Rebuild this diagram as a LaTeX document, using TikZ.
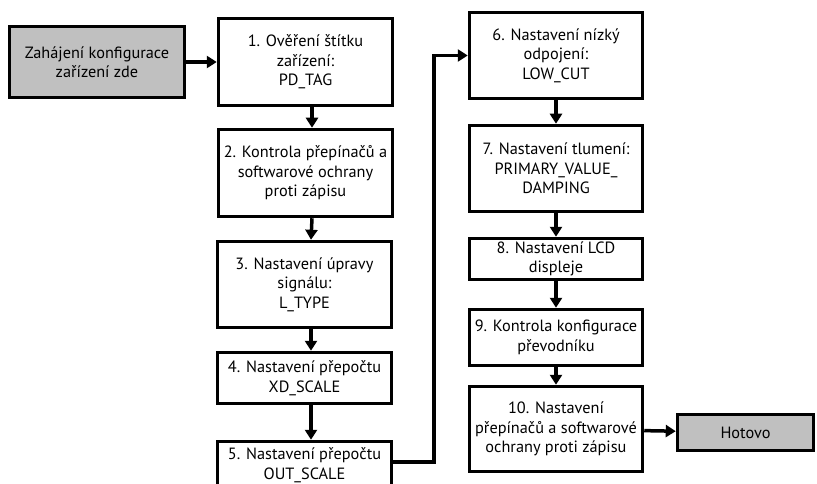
\documentclass[tikz,border=0pt]{standalone}
\usepackage{fontspec}
\setmainfont{PT Sans}
\usepackage{xcolor}
\usetikzlibrary{arrows.meta}
\definecolor{boxgray}{RGB}{192,192,192}
\tikzset{
  % kroky konfigurace
  stepbox/.style  = {draw=black, line width=3.5pt, fill=white, align=center,
                     font=\fontsize{16.3}{19.5}\selectfont, inner sep=1pt},
  % zacatek a konec
  termbox/.style  = {stepbox, fill=boxgray},
  % sipky
  flow/.style     = {-{Triangle[length=10pt,width=12pt]}, line width=3.5pt},
}

\begin{document}
\begin{tikzpicture}[x=1pt,y=-1pt]
  \clip (0,0) rectangle (817,484);
  % levy sloupec
  \node[termbox, minimum width=175pt, minimum height=71pt] (start) at (97,62)
    {Zahájení konfigurace\\zařízení zde};
  \node[stepbox, minimum width=174pt, minimum height=87pt] (s1) at (305.5,62)
    {1. Ověření štítku\\zařízení:\\PD\_TAG};
  \node[stepbox, minimum width=174pt, minimum height=87pt] (s2) at (305.5,173)
    {2. Kontrola přepínačů a\\softwarové ochrany\\proti zápisu};
  \node[stepbox, minimum width=174pt, minimum height=86pt] (s3) at (304.5,284.5)
    {3. Nastavení úpravy\\signálu:\\L\_TYPE};
  \node[stepbox, minimum width=174pt, minimum height=51pt] (s4) at (304.5,378)
    {4. Nastavení přepočtu\\XD\_SCALE};
  \node[stepbox, minimum width=174pt, minimum height=47pt] (s5) at (304.5,465)
    {5. Nastavení přepočtu\\OUT\_SCALE};
  % pravy sloupec
  \node[stepbox, minimum width=173pt, minimum height=86pt] (s6) at (556,55.5)
    {6. Nastavení nízký\\odpojení:\\LOW\_CUT};
  \node[stepbox, minimum width=173pt, minimum height=86pt] (s7) at (556,168.5)
    {7. Nastavení tlumení:\\PRIMARY\_VALUE\_\\DAMPING};
  \node[stepbox, minimum width=173pt, minimum height=41pt] (s8) at (556,259)
    {8. Nastavení LCD\\displeje};
  \node[stepbox, minimum width=173pt, minimum height=56pt] (s9) at (556,337.5)
    {9. Kontrola konfigurace\\převodníku};
  \node[stepbox, minimum width=173pt, minimum height=85pt] (s10) at (556,429)
    {10. Nastavení\\přepínačů a softwarové\\ochrany proti zápisu};
  \node[termbox, minimum width=136pt, minimum height=36pt] (done) at (745.5,432.5)
    {Hotovo};
  % sipky
  \draw[flow] (start) -- (s1);
  \foreach \a/\b in {s1/s2,s2/s3,s3/s4,s4/s5}
    \draw[flow] ([xshift=6.5pt]\a.south) -- ([xshift=6.5pt]\b.north);
  \foreach \a/\b in {s6/s7,s7/s8,s8/s9,s9/s10}
    \draw[flow] (\a) -- (\b);
  \coordinate (jog) at (434,462);
  \draw[flow, line cap=rect] ([yshift=3pt]s5.east) -- (jog) |- (s6.west);
  \draw[flow] (s10) -- (done);
\end{tikzpicture}
\end{document}
